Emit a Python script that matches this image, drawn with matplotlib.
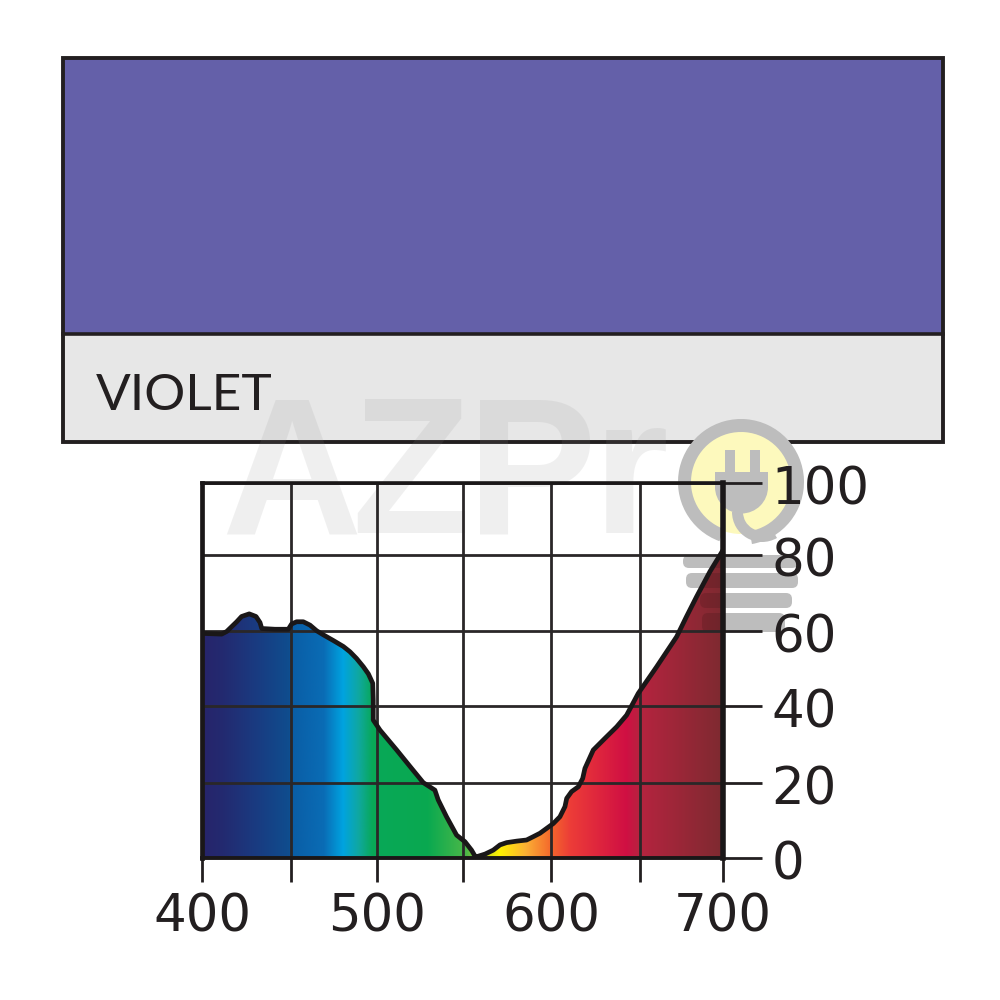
import numpy as np
import matplotlib
matplotlib.use("Agg")
import matplotlib.pyplot as plt
from matplotlib.colors import LinearSegmentedColormap
from matplotlib.patches import Rectangle, Circle, FancyBboxPatch, Polygon, Wedge
from matplotlib.transforms import ScaledTranslation

# ---- data ----
wavelength = [400, 411.3, 414.2, 417.1, 420, 422.8, 427.2, 431.1, 433.4, 434.4, 442, 449.7, 451.6, 454.5,
               458.3, 462.2, 466, 469.9, 475.6, 481.4, 485.2, 489, 492.9, 495.8, 498.3, 498.6, 498.6,
               502.5, 512.1, 519.8, 527.4, 534.1, 536, 540.8, 546.6, 551.4, 555.2, 557.2, 558.2,
               563, 567.7, 571.6, 575.4, 581.2, 586.9, 590.8, 594.6, 602.3, 606.1, 609, 610, 612.8,
               616.7, 619.2, 620.5, 625.3, 632, 638.8, 644.5, 651.2, 661.8, 673.3, 679, 684.8, 692.5, 700]
transmission = [59.9, 59.7, 60.4, 61.7, 63, 64.4, 65.1, 64.4, 62.8, 61.2, 61, 61, 62.4, 63,
                 63, 62.1, 60.6, 59.5, 58, 56.4, 55, 53.2, 51, 49.1, 46.6, 42.1, 36.8,
                 34.1, 28.8, 24.4, 20.1, 18.1, 15.5, 11, 6.1, 4.35, 2.1, 0.5, 0.35,
                 1.05, 2.1, 3.5, 4.1, 4.5, 4.8, 5.7, 6.6, 9.2, 11, 13.7, 15.9, 17.7,
                 19, 21.2, 23.9, 28.8, 31.9, 35, 38.1, 43.9, 51, 59, 64.4, 69.7, 76.4, 82.1]
x_ticks = [400, 451, 501, 550, 601, 652, 700]
x_tick_labels = ["400", "", "500", "", "600", "", "700"]
y_ticks = [0, 20, 40.5, 60.5, 80.8, 100]
y_tick_labels = ["0", "20", "40", "60", "80", "100"]
swatch_label = "VIOLET"
spectrum_nm = [400, 412, 430, 450, 452, 470, 481, 490, 498, 530, 552, 563, 571, 586, 601, 612, 644, 652, 700]
spectrum_colors = ["#27246b", "#232a70", "#1a3a80", "#0f4d8e", "#0a5ea6", "#0a6cb5", "#00a3e0", "#10a8a0",
                   "#08a858", "#0aa950", "#4cb848", "#c8d820", "#fff200", "#fbb034", "#f4662c",
                   "#ec3c38", "#d00f43", "#b5243f", "#7d2a30"]

PX = 1000.0
fig = plt.figure(figsize=(10, 10), dpi=100, facecolor="white")

# page-level panels, in pixel coordinates
bg = fig.add_axes([0, 0, 1, 1], zorder=0)
bg.set_xlim(0, PX); bg.set_ylim(PX, 0); bg.axis("off")
bg.add_patch(Rectangle((63, 58), 880, 276, fc="#6460a9", ec="none"))
bg.add_patch(Rectangle((63, 334), 880, 108, fc="#e7e7e7", ec="none"))
bg.add_patch(Rectangle((63, 58), 880, 384, fc="none", ec="#231f20", lw=2.8))
bg.plot([63, 943], [334, 334], color="#231f20", lw=2.6)
bg.text(96, 410, swatch_label, fontsize=37, color="#231f20", ha="left", va="baseline", family="Lato")

# AZPr watermark letters
for ch, xc in zip("AZPr", (291, 411, 532, 631)):
    bg.text(xc, 533, ch, fontsize=140, fontweight="bold", family="Liberation Sans", color="#8a8a8a",
            alpha=0.13, ha="center", va="baseline", zorder=4)

# plug logo, under the chart lines
gray = "#bdbdbd"
bg.add_patch(Circle((741, 482), 52, fc="#fdf9bd", ec="none", zorder=3))
bg.add_patch(Wedge((741, 482), 63, 110, 440, width=13, fc=gray, ec="none", zorder=3))
bg.add_patch(Wedge((762, 512), 30, 60, 180, width=11, fc=gray, ec="none", zorder=3))
bg.add_patch(Rectangle((725, 450), 10, 25, fc=gray, ec="none", zorder=3))
bg.add_patch(Rectangle((750, 450), 10, 25, fc=gray, ec="none", zorder=3))
bg.add_patch(Rectangle((715, 472), 53, 16, fc=gray, ec="none", zorder=3))
bg.add_patch(Wedge((741.5, 487), 26.5, 0, 180, fc=gray, ec="none", zorder=3))
bars = ((683, 798, 555, 568), (686, 798, 573, 588), (700, 792, 593, 608), (702, 785, 613, 632))
for x0, x1, y0, y1 in bars:
    bg.add_patch(FancyBboxPatch((x0, y0), x1 - x0, y1 - y0,
                                boxstyle="round,pad=0,rounding_size=6", fc=gray, ec="none", zorder=3))

# chart
ax = fig.add_axes([0.202, 1 - 0.858, 0.521, 0.375], zorder=1)
ax.set_xlim(400, 700); ax.set_ylim(0, 100)
ax.patch.set_alpha(0)
cmap = LinearSegmentedColormap.from_list(
    "spec", [((n - 400) / 300, c) for n, c in zip(spectrum_nm, spectrum_colors)], N=1024)
img = ax.imshow(np.linspace(0, 1, 1024)[None, :], extent=(400, 700, 0, 100), aspect="auto",
                cmap=cmap, zorder=1, interpolation="bilinear")
poly = Polygon(list(zip(wavelength, transmission)) + [(700, 0), (400, 0)], closed=True,
               transform=ax.transData, fc="none", ec="none")
ax.add_patch(poly)
img.set_clip_path(poly)
ax.set_xticks(x_ticks, x_tick_labels)
ax.set_yticks(y_ticks, y_tick_labels)
ax.yaxis.tick_right()
ax.grid(True, color="#2a2728", lw=2.0, zorder=2)
ax.set_axisbelow(False)
ax.plot(wavelength, transmission, color="#1a1718", lw=3.4, zorder=3,
        solid_joinstyle="round", solid_capstyle="round")
ax.tick_params(axis="x", length=17, width=2.0, color="#231f20", pad=8, labelsize=37, labelcolor="#231f20")
ax.tick_params(axis="y", length=28, width=2.0, color="#231f20", pad=7, labelsize=37, labelcolor="#231f20")
down = ScaledTranslation(0, -1.5 / 72, fig.dpi_scale_trans)
for lab in ax.get_yticklabels():
    lab.set_transform(lab.get_transform() + down)
for s, w in (("left", 3.4), ("right", 4), ("top", 2.6), ("bottom", 2.8)):
    ax.spines[s].set_linewidth(w)
    ax.spines[s].set_color("#1a1718")
    ax.spines[s].set_zorder(5)

# logo bars faintly darken the fill they cross
for x0, x1, y0, y1 in bars:
    b = FancyBboxPatch((x0, y0), x1 - x0, y1 - y0, boxstyle="round,pad=0,rounding_size=6",
                       fc="black", ec="none", alpha=0.12, transform=bg.transData, zorder=2)
    ax.add_patch(b)
    b.set_clip_path(poly)

fig.savefig("out.png", dpi=100)
